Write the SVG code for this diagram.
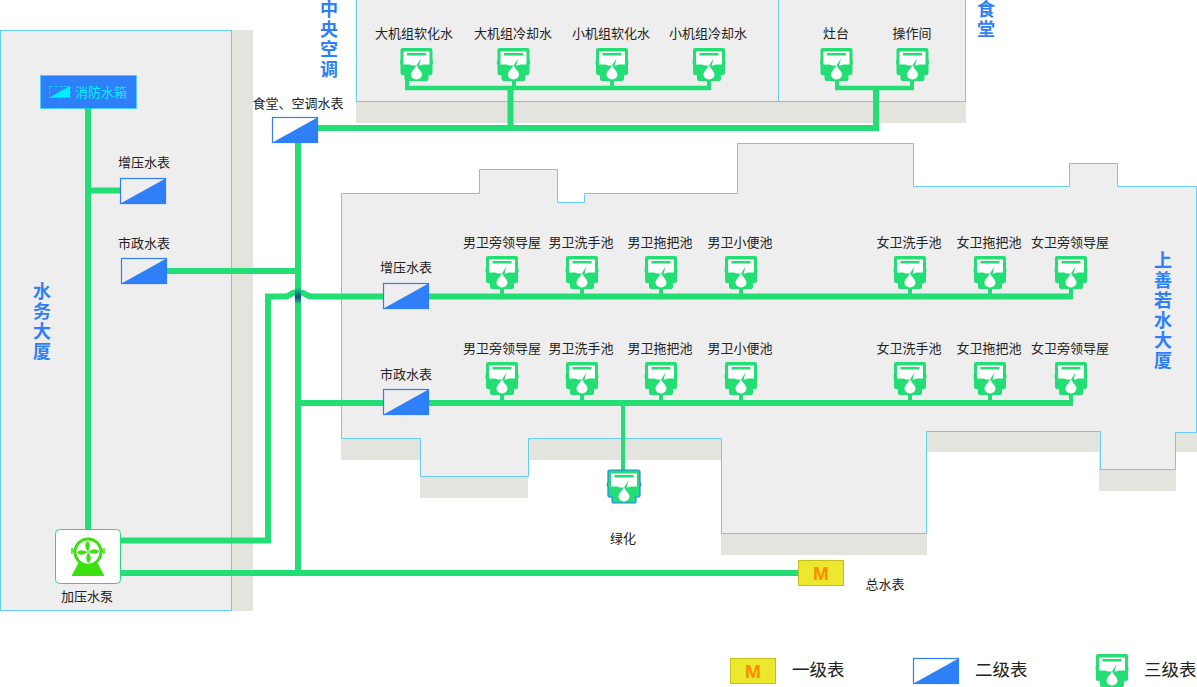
<svg xmlns="http://www.w3.org/2000/svg" xmlns:xlink="http://www.w3.org/1999/xlink" width="1197" height="687" viewBox="0 0 1197 687">
<style>
.b{fill:#eeeeee;stroke:#66ccf2;stroke-width:1}
.s{fill:#e4e4df}
.p{fill:none;stroke:#22de74;stroke-width:6}
.t{fill:none;stroke:#22de74;stroke-width:4.500}
.st{fill:none;stroke:#22de74;stroke-width:4}
text{font-family:"Noto Sans CJK SC","Liberation Sans",sans-serif;fill:#222;font-size:13px;text-anchor:middle}
.big{font-size:18px;font-weight:700;fill:#2e7ff8;writing-mode:vertical-rl;text-anchor:start;letter-spacing:2px}
.leg{font-size:17.500px;text-anchor:start}
.mframe{fill:none;stroke:#2e7ff8;stroke-width:1.200}
.mfill{fill:#2e7ff8}
.y{fill:#ebe82e;stroke:#c4bf20;stroke-width:1}
.m{font-family:"Liberation Sans",sans-serif;font-weight:700;fill:#ff8c00;font-size:19px}
</style>
<defs>
<path id="tmo" d="M-14 0H14Q16 0 16 2V12Q17.500 14 16 17V25Q16 27 14 27H12V31Q12 33 10 33H-10Q-12 33 -12 31V27H-14Q-16 27 -16 25V17Q-17.500 14 -16 12V2Q-16 0 -14 0Z"/>
<g id="tm">
<use xlink:href="#tmo" fill="#22de74"/>
<path d="M-13 3.500H13V16.500H7L4 17.500H-4L-7 16.500H-13Z" fill="#fff"/>
<rect x="-9.500" y="5" width="19" height="2.500" fill="#22de74"/>
<path d="M4.500 10.500L-2 20.500L1.500 21.500Z" fill="#22de74"/>
<path d="M0 17C2 21.500 5.500 23.500 5.500 26.500A5.500 5 0 0 1 -5.500 26.500C-5.500 23.500 -2 21.500 0 17Z" fill="#fff"/>
</g>
<g id="bm"><path d="M0 25L45 0V25Z" class="mfill"/><rect width="45" height="25" class="mframe"/></g>
<linearGradient id="cross" x1="0" y1="0" x2="0" y2="1"><stop offset="0" stop-color="#22de74"/><stop offset=".6" stop-color="#0b4f86"/><stop offset="1" stop-color="#22de74"/></linearGradient>
</defs>

<g id="buildings">
<rect class="s" x="232" y="30" width="21" height="581"/>
<rect class="b" x="0.500" y="30.500" width="231" height="580"/>
<rect class="s" x="356" y="101" width="610" height="22"/>
<rect class="b" x="356.500" y="-1" width="422" height="102.500"/>
<rect class="b" x="778.500" y="-1" width="187" height="102.500"/>
<path class="s" d="M341 438H420V476H528V438H721V533H926V431H1100V469H1175V432H1197V452H1176V491H1099V452H927V555H721V460H528V498H420V460H341Z"/>
<path class="b" d="M341.500 193.500H479.500V169.500H557.500V202.500H584.500V193.500H737.500V143.500H913.500V186.500H1069.500V163.500H1117.500V186.500H1196.500V432.500H1175.500V469.500H1100.500V431.500H926.500V533.500H721.500V438.500H528.500V476.500H420.500V438.500H341.500Z"/>
<text class="big" x="329" y="0">中央空调</text>
<text class="big" x="986" y="0">食堂</text>
<text class="big" x="42" y="282">水务大厦</text>
<text class="big" x="1163" y="251">上善若水大厦</text>
</g>

<g id="connectors">
<path class="p" d="M88 108V530M88 190.500H120M167 271H298M298 143V573M120 573H798M120 540.500H268V296.500H285C290 296.500 291 292.500 295 292.500H301C305 292.500 306 296.500 312 296.500H383M429 296.500H1071M298 403H383M429 403H1071M318 128H879M510.500 128V86M876 128V86"/>
<path class="t" d="M405 88H711M835 88H914"/>
<path class="st" d="M623 403V470M407 81V88M514 81V88M612 81V88M709 81V88M837 81V88M912 81V88M502 289V296M582 289V296M661 289V296M741 289V296M910 289V296M990 289V296M1071 289V299M502 395V403M582 395V403M661 395V403M741 395V403M910 395V403M990 395V403M1071 395V406"/>
<rect x="295" y="287" width="6" height="17" fill="url(#cross)"/>
</g>

<g id="tank">
<rect x="40.500" y="75.500" width="96" height="33" fill="#2e7ff8" stroke="#00f0ff" stroke-dasharray="2.500 1.500"/>
<path d="M49.500 97.500L70 86V97.500Z" fill="#00f0ff"/>
<rect x="49.500" y="86.500" width="20.500" height="11" fill="none" stroke="#00f0ff" stroke-dasharray="3 2" stroke-width=".8"/>
<text x="101" y="97" style="fill:#00f0ff">消防水箱</text>
</g>

<g id="meter-booster-a"><use xlink:href="#bm" x="120.500" y="178.500"/><text x="144" y="167">增压水表</text></g>
<g id="meter-city-a"><use xlink:href="#bm" x="121.500" y="258.500"/><text x="144" y="248">市政水表</text></g>
<g id="meter-canteen"><use xlink:href="#bm" x="272.500" y="117.500"/><text x="298" y="108">食堂、空调水表</text></g>
<g id="meter-booster-b"><use xlink:href="#bm" x="383.500" y="283.500"/><text x="406" y="272">增压水表</text></g>
<g id="meter-city-b"><use xlink:href="#bm" x="383.500" y="389.500"/><text x="406" y="379">市政水表</text></g>

<g id="ac-meters">
<use xlink:href="#tm" x="416.500" y="48"/><text x="414" y="38">大机组软化水</text>
<use xlink:href="#tm" x="513.500" y="48"/><text x="513" y="38">大机组冷却水</text>
<use xlink:href="#tm" x="612" y="48"/><text x="611" y="38">小机组软化水</text>
<use xlink:href="#tm" x="709" y="48"/><text x="708" y="38">小机组冷却水</text>
<use xlink:href="#tm" x="836.500" y="48"/><text x="836" y="38">灶台</text>
<use xlink:href="#tm" x="912.500" y="48"/><text x="912" y="38">操作间</text>
</g>

<g id="row1-meters">
<use xlink:href="#tm" x="502" y="256"/><text x="502" y="247">男卫旁领导屋</text>
<use xlink:href="#tm" x="582" y="256"/><text x="581" y="247">男卫洗手池</text>
<use xlink:href="#tm" x="661" y="256"/><text x="660" y="247">男卫拖把池</text>
<use xlink:href="#tm" x="741" y="256"/><text x="740" y="247">男卫小便池</text>
<use xlink:href="#tm" x="910" y="256"/><text x="909" y="247">女卫洗手池</text>
<use xlink:href="#tm" x="990" y="256"/><text x="989" y="247">女卫拖把池</text>
<use xlink:href="#tm" x="1071" y="256"/><text x="1070" y="247">女卫旁领导屋</text>
</g>

<g id="row2-meters">
<use xlink:href="#tm" x="502" y="362"/><text x="502" y="353">男卫旁领导屋</text>
<use xlink:href="#tm" x="582" y="362"/><text x="581" y="353">男卫洗手池</text>
<use xlink:href="#tm" x="661" y="362"/><text x="660" y="353">男卫拖把池</text>
<use xlink:href="#tm" x="741" y="362"/><text x="740" y="353">男卫小便池</text>
<use xlink:href="#tm" x="910" y="362"/><text x="909" y="353">女卫洗手池</text>
<use xlink:href="#tm" x="990" y="362"/><text x="989" y="353">女卫拖把池</text>
<use xlink:href="#tm" x="1071" y="362"/><text x="1070" y="353">女卫旁领导屋</text>
</g>

<g id="meter-green">
<use xlink:href="#tm" x="624" y="470"/>
<use xlink:href="#tmo" x="624" y="470" fill="none" stroke="#2e7ff8" stroke-width="1.200"/>
<text x="623" y="543">绿化</text>
</g>

<g id="pump">
<rect x="55.500" y="529.500" width="65" height="54" rx="4" fill="#fff" stroke="#22de74"/>
<path d="M81 558H95L104.500 576H71.500Z" fill="#3de00f"/>
<circle cx="88" cy="552" r="13" fill="#fff" stroke="#3de00f" stroke-width="3"/>
<path d="M73 551H75M101 551H103" stroke="#3de00f" stroke-width="3"/>
<path d="M72 548V554M104 548V554" stroke="#3de00f" stroke-width="1.500"/>
<path d="M88 552Q83 546 87 541Q92 543 88 552ZM88 552Q94 547 99 551Q97 556 88 552ZM88 552Q93 558 89 563Q84 561 88 552ZM88 552Q82 557 77 553Q79 548 88 552Z" fill="#3de00f"/>
<text x="87" y="601">加压水泵</text>
</g>

<g id="meter-main">
<rect class="y" x="798.500" y="560.500" width="45" height="25"/><text class="m" x="821" y="579.500">M</text>
<text x="885" y="589">总水表</text>
</g>

<g id="legend">
<rect class="y" x="730.500" y="658.500" width="45" height="25"/><text class="m" x="753" y="677.500">M</text>
<text class="leg" x="792" y="676">一级表</text>
<use xlink:href="#bm" x="913.500" y="658.500"/>
<text class="leg" x="975" y="676">二级表</text>
<use xlink:href="#tm" x="1112" y="654"/>
<text class="leg" x="1144" y="676">三级表</text>
</g>
</svg>
